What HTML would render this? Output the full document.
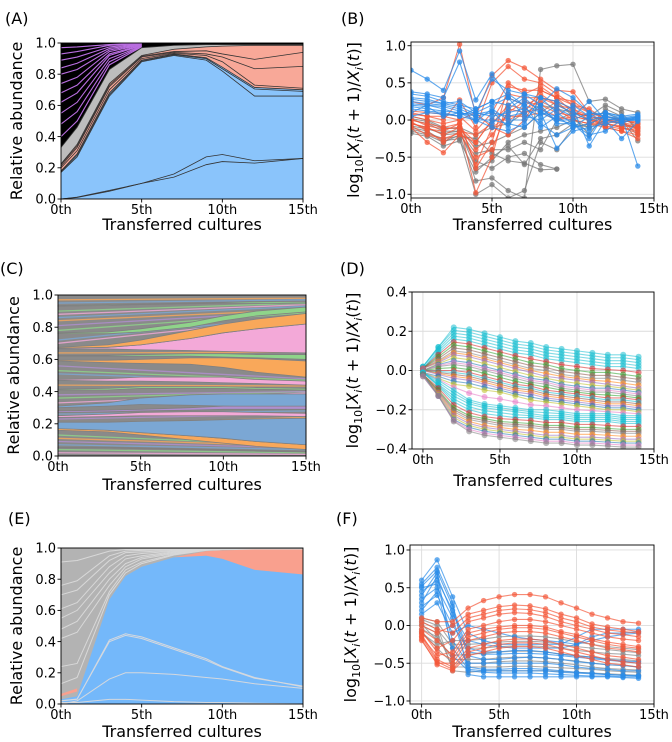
<!DOCTYPE html>
<html><head><meta charset="utf-8"><style>
html,body{margin:0;padding:0;background:#fff;}
svg{display:block;font-family:"DejaVu Sans","Liberation Sans",sans-serif;}
</style></head><body>
<svg id="fig" width="672" height="742" viewBox="0 0 672 742" xmlns="http://www.w3.org/2000/svg"></svg>
<script>
// ---------- DATA ----------
const ticksX = [0,5,10,15];
const ticksXLabels = ["0th","5th","10th","15th"];
const tSteps = [0,1,2,3,4,5,6,7,8,9,10,11,12,13,14];

// Panel A (stacked boundaries)
const aX = [0,1,3,5,7,9,10,12,15];
const aBl1 = [0,0.01,0.05,0.10,0.14,0.22,0.24,0.23,0.26];
const aBl2 = [0,0.012,0.055,0.10,0.16,0.27,0.285,0.245,0.26];
const aBlueTop1 = [0.17,0.27,0.66,0.88,0.92,0.89,0.82,0.66,0.66];
const aBlueTop2 = [0.175,0.28,0.67,0.885,0.925,0.90,0.835,0.705,0.69];
const aBlueTop = [0.18,0.29,0.68,0.89,0.93,0.905,0.845,0.715,0.70];
const aSal1 = [0.20,0.31,0.70,0.90,0.935,0.92,0.88,0.73,0.71];
const aSal2 = [0.21,0.33,0.72,0.91,0.94,0.93,0.91,0.835,0.85];
const aSal3 = [0.22,0.34,0.73,0.915,0.945,0.95,0.93,0.895,0.94];
const aSalTop = [0.225,0.35,0.74,0.92,0.96,0.975,0.98,0.985,0.985];
const aGrayTop = [0.33,0.46,0.83,0.97,0.985,0.99,0.99,0.99,0.99];
const aPurpleX = [0,1,3,5];
const aPurple = [[0.40,0.50,0.86,0.975],[0.48,0.56,0.88,0.978],[0.55,0.62,0.90,0.98],[0.62,0.68,0.92,0.983],[0.68,0.73,0.93,0.985],[0.74,0.78,0.945,0.988],[0.80,0.83,0.955,0.99],[0.84,0.87,0.965,0.992],[0.89,0.91,0.975,0.994],[0.93,0.945,0.985,0.996],[0.97,0.975,0.99,0.998]];

// Panel B
const bBlue = [
[0.67,0.55,0.40,0.93,0.27,0.62,0.30,0.20,0.10,0.00,-0.05,-0.25,0.10,0.05,-0.62],
[0.38,0.35,0.30,0.78,0.10,0.55,0.40,0.35,0.20,0.42,0.30,0.10,0.05,0.00,0.02],
[0.35,0.32,0.25,0.20,0.15,0.25,0.20,0.35,0.30,0.25,0.15,-0.35,0.00,-0.05,0.05],
[0.25,0.22,0.20,0.15,0.05,0.10,0.05,0.10,-0.05,-0.20,-0.10,0.05,0.10,0.05,0.08],
[0.22,0.20,0.18,0.12,0.00,0.00,-0.05,-0.10,0.10,-0.38,-0.15,-0.10,-0.05,0.00,0.03],
[0.18,0.15,0.12,0.10,0.05,-0.05,0.15,0.30,0.10,0.05,0.20,0.05,0.02,-0.02,0.00],
[0.10,0.20,0.15,0.08,0.10,0.20,0.30,0.05,0.00,0.15,0.05,0.25,0.00,-0.25,-0.02],
[0.20,0.18,0.05,0.10,-0.02,0.15,0.00,0.00,0.20,-0.05,-0.05,-0.20,-0.15,0.00,0.05],
[0.30,0.28,0.22,0.25,0.10,0.05,0.10,0.15,0.05,0.20,0.10,0.00,0.05,0.02,0.00],
[0.15,0.12,0.10,0.05,0.00,-0.10,-0.15,-0.05,0.30,0.10,-0.05,-0.15,0.00,0.02,0.04],
[0.28,0.25,0.22,0.18,0.08,0.12,-0.10,0.25,0.15,0.00,0.00,0.10,0.08,0.03,0.06],
[0.05,0.10,0.08,0.05,0.15,0.25,0.35,0.20,-0.10,0.05,-0.10,-0.05,0.05,-0.02,0.01]];
const bRed = [
[0.25,0.20,0.30,1.02,0.05,0.60,0.80,0.70,0.55,0.40,0.38,0.10,0.05,0.00,-0.05],
[0.10,0.05,0.00,0.27,-0.10,0.50,0.72,0.55,0.50,0.35,0.20,0.15,0.00,-0.05,-0.10],
[0.05,0.00,-0.05,0.00,-0.65,-0.30,0.45,0.40,0.40,0.30,0.20,0.10,-0.05,-0.10,-0.15],
[0.00,-0.05,-0.10,-0.05,-0.98,-0.50,0.30,0.20,0.30,0.20,0.15,0.05,-0.10,-0.15,-0.20],
[-0.05,-0.10,-0.20,-0.10,-0.40,-0.20,0.10,0.25,0.20,0.10,0.05,0.00,-0.05,-0.08,-0.10],
[-0.10,-0.30,-0.44,-0.20,-0.30,0.00,0.00,0.10,0.40,0.30,0.10,0.05,0.00,0.00,-0.05],
[0.08,0.05,0.05,0.00,0.10,-0.10,-0.20,0.00,0.35,0.20,0.10,0.05,0.00,-0.03,-0.08],
[-0.02,-0.15,-0.30,-0.15,-0.20,-0.05,0.20,0.15,0.25,0.15,0.00,-0.05,-0.10,-0.15,-0.25],
[0.02,-0.08,-0.12,-0.10,-0.30,0.00,0.35,0.30,0.30,0.25,0.15,0.00,-0.08,-0.12,-0.12],
[-0.08,-0.20,-0.25,-0.18,-0.50,-0.40,0.15,0.10,0.15,0.05,0.00,-0.05,-0.05,-0.10,-0.18],
[0.12,0.10,0.08,0.05,-0.15,0.10,0.50,0.35,0.45,0.30,0.25,0.10,0.02,-0.02,-0.02],
[-0.04,-0.12,-0.15,-0.05,-0.60,-0.10,0.05,0.05,0.10,0.00,0.05,0.00,-0.02,-0.05,-0.12]];
const bGray = [
[-0.15,-0.20,-0.30,-0.20,-0.82,-0.78,-0.95,-1.05,0.68,0.73,0.75,0.25,0.28,0.15,0.10],
[-0.10,-0.15,-0.28,-0.25,-1.00,-0.87,-1.05,-0.95,-0.30,-0.40,-0.10,-0.05,0.05,0.00,-0.05],
[-0.05,-0.10,-0.20,-0.18,-0.55,-0.65,-0.50,-0.45,-0.60,-0.66,null,null,null,null,null],
[0.00,-0.05,-0.15,-0.15,-0.45,-0.40,-0.40,-0.30,-0.40,0.00,0.10,0.00,0.05,0.00,-0.28],
[0.05,0.00,-0.10,-0.12,-0.35,-0.30,-0.20,-0.10,0.10,0.25,0.05,-0.20,0.10,0.00,-0.20],
[-0.12,-0.18,-0.25,-0.22,-0.25,-0.45,-0.55,-0.58,-0.67,-0.66,null,null,null,null,null],
[-0.08,-0.12,-0.18,-0.15,-0.65,-0.55,-0.30,-0.20,-0.15,-0.10,0.00,-0.10,0.15,0.05,-0.10],
[0.02,-0.02,-0.12,-0.10,-0.20,-0.10,-0.05,0.10,0.20,0.15,0.10,0.05,0.20,0.10,-0.15],
[-0.18,-0.22,-0.35,-0.28,-0.70,-0.50,-0.35,-0.60,-0.25,-0.20,-0.05,-0.10,0.00,-0.05,-0.10]];

// Panel C bands
const cX = [0,3,5,8,10,12,15];
const cBandLow = [
[0.16,0.15,0.13,0.10,0.08,0.06,0.04],[0.17,0.16,0.145,0.125,0.11,0.09,0.07],[0.24,0.245,0.25,0.25,0.25,0.25,0.245],
[0.30,0.31,0.32,0.315,0.31,0.305,0.30],[0.41,0.41,0.42,0.42,0.42,0.415,0.41],[0.47,0.465,0.465,0.46,0.455,0.45,0.44],
[0.59,0.58,0.575,0.57,0.55,0.52,0.49],[0.62,0.62,0.62,0.62,0.615,0.61,0.60],[0.665,0.665,0.66,0.655,0.65,0.645,0.64],
[0.67,0.675,0.69,0.73,0.765,0.79,0.82],[0.76,0.76,0.77,0.80,0.84,0.87,0.895],[0.93,0.935,0.94,0.945,0.95,0.95,0.945],
[0.27,0.275,0.28,0.285,0.29,0.29,0.29],[0.05,0.05,0.045,0.04,0.035,0.03,0.025]];
const cBandHigh = [
[0.17,0.16,0.145,0.125,0.11,0.09,0.07],[0.21,0.21,0.215,0.22,0.225,0.23,0.235],[0.25,0.26,0.27,0.275,0.275,0.27,0.265],
[0.31,0.33,0.36,0.38,0.385,0.385,0.385],[0.415,0.42,0.43,0.43,0.43,0.425,0.42],[0.475,0.48,0.49,0.49,0.49,0.475,0.465],
[0.595,0.595,0.60,0.61,0.61,0.605,0.59],[0.625,0.625,0.63,0.635,0.635,0.63,0.63],[0.67,0.675,0.69,0.73,0.765,0.79,0.82],
[0.675,0.69,0.72,0.78,0.82,0.85,0.885],[0.765,0.77,0.79,0.83,0.87,0.90,0.925],[0.935,0.94,0.945,0.95,0.955,0.96,0.955],
[0.28,0.285,0.29,0.30,0.31,0.31,0.31],[0.055,0.055,0.05,0.045,0.04,0.035,0.03]];
const cBandColor = ["#f9a85a","#7ba7d4","#f3a9d8","#7ba7d4","#8fd48a","#f3a9d8","#f9a85a","#8fd48a","#f3a9d8","#f9a85a","#8fd48a","#8fd48a","#b08fcf","#b08fcf"];
const cStripeStart = [0.02,0.04,0.07,0.09,0.11,0.13,0.19,0.23,0.26,0.33,0.36,0.38,0.44,0.51,0.53,0.56,0.64,0.70,0.72,0.78,0.81,0.84,0.86,0.88,0.90,0.95,0.97];
const cStripeEnd   = [0.01,0.02,0.04,0.05,0.06,0.065,0.24,0.26,0.28,0.39,0.40,0.40,0.435,0.46,0.47,0.48,0.645,0.86,0.87,0.89,0.90,0.91,0.93,0.94,0.95,0.97,0.98];
const cStripeColor = ["#f3a9d8","#8fd48a","#7ba7d4","#b08fcf","#f9a85a","#8fd48a","#f9a85a","#b08fcf","#7ba7d4","#f3a9d8","#8fd48a","#b08fcf","#f9a85a","#7ba7d4","#8fd48a","#b08fcf","#f9a85a","#f3a9d8","#7ba7d4","#8fd48a","#b08fcf","#f9a85a","#7ba7d4","#f3a9d8","#8fd48a","#7ba7d4","#f9a85a"];

// Panel D
const dSeries = [
[0.02,0.12,0.22,0.21,0.19,0.17,0.15,0.14,0.12,0.11,0.10,0.09,0.08,0.08,0.07],
[0.02,0.12,0.205,0.195,0.175,0.155,0.135,0.125,0.105,0.095,0.085,0.075,0.065,0.065,0.055],
[0.02,0.11,0.19,0.18,0.16,0.14,0.12,0.11,0.09,0.08,0.07,0.06,0.05,0.05,0.04],
[0.01,0.10,0.175,0.165,0.145,0.125,0.105,0.095,0.075,0.065,0.055,0.045,0.035,0.035,0.025],
[0.01,0.09,0.16,0.15,0.13,0.11,0.09,0.08,0.06,0.05,0.04,0.03,0.02,0.02,0.01],
[0.01,0.08,0.145,0.135,0.115,0.095,0.075,0.06,0.045,0.03,0.02,0.01,0.005,0,-0.01],
[0.01,0.07,0.13,0.12,0.10,0.08,0.06,0.04,0.03,0.01,0.00,-0.01,-0.01,-0.02,-0.03],
[0.01,0.06,0.115,0.105,0.085,0.065,0.045,0.025,0.015,-0.005,-0.015,-0.025,-0.025,-0.035,-0.045],
[0.01,0.05,0.10,0.09,0.07,0.05,0.03,0.01,0.00,-0.02,-0.03,-0.04,-0.04,-0.05,-0.06],
[0.01,0.045,0.09,0.08,0.06,0.04,0.02,0,-0.015,-0.03,-0.04,-0.05,-0.055,-0.065,-0.075],
[0.01,0.04,0.08,0.07,0.05,0.03,0.01,-0.01,-0.03,-0.04,-0.05,-0.06,-0.07,-0.08,-0.09],
[0,0.035,0.065,0.055,0.035,0.015,-0.005,-0.025,-0.04,-0.055,-0.065,-0.075,-0.08,-0.09,-0.10],
[0.00,0.03,0.05,0.04,0.02,0.00,-0.02,-0.04,-0.05,-0.07,-0.08,-0.09,-0.09,-0.10,-0.11],
[0,0.025,0.04,0.03,0.01,-0.01,-0.03,-0.05,-0.06,-0.08,-0.09,-0.10,-0.10,-0.11,-0.12],
[0.00,0.02,0.03,0.02,0.00,-0.02,-0.04,-0.06,-0.07,-0.09,-0.10,-0.11,-0.11,-0.12,-0.13],
[0,0.01,0.015,0.005,-0.015,-0.035,-0.055,-0.07,-0.085,-0.10,-0.11,-0.12,-0.125,-0.13,-0.14],
[0.00,0.00,0.00,-0.01,-0.03,-0.05,-0.07,-0.08,-0.10,-0.11,-0.12,-0.13,-0.14,-0.14,-0.15],
[0,-0.005,-0.01,-0.02,-0.04,-0.06,-0.08,-0.09,-0.11,-0.12,-0.13,-0.14,-0.15,-0.15,-0.16],
[0.00,-0.01,-0.02,-0.03,-0.05,-0.07,-0.09,-0.10,-0.12,-0.13,-0.14,-0.15,-0.16,-0.16,-0.17],
[0,-0.015,-0.03,-0.04,-0.06,-0.08,-0.10,-0.11,-0.13,-0.14,-0.15,-0.16,-0.17,-0.17,-0.18],
[0.00,-0.02,-0.04,-0.05,-0.07,-0.09,-0.11,-0.12,-0.14,-0.15,-0.16,-0.17,-0.18,-0.18,-0.19],
[-0.01,-0.03,-0.055,-0.065,-0.085,-0.10,-0.12,-0.135,-0.15,-0.16,-0.17,-0.18,-0.19,-0.19,-0.20],
[-0.01,-0.04,-0.07,-0.08,-0.10,-0.11,-0.13,-0.15,-0.16,-0.17,-0.18,-0.19,-0.20,-0.20,-0.21],
[-0.01,-0.045,-0.085,-0.115,-0.135,-0.145,-0.16,-0.175,-0.18,-0.19,-0.20,-0.205,-0.21,-0.215,-0.22],
[-0.01,-0.05,-0.10,-0.15,-0.17,-0.18,-0.19,-0.20,-0.20,-0.21,-0.22,-0.22,-0.22,-0.23,-0.23],
[-0.01,-0.06,-0.115,-0.16,-0.18,-0.19,-0.20,-0.21,-0.215,-0.22,-0.23,-0.23,-0.23,-0.24,-0.24],
[-0.01,-0.07,-0.13,-0.17,-0.19,-0.20,-0.21,-0.22,-0.23,-0.23,-0.24,-0.24,-0.24,-0.25,-0.25],
[-0.01,-0.075,-0.145,-0.185,-0.205,-0.215,-0.225,-0.23,-0.24,-0.24,-0.25,-0.25,-0.25,-0.26,-0.26],
[-0.01,-0.08,-0.16,-0.20,-0.22,-0.23,-0.24,-0.24,-0.25,-0.25,-0.26,-0.26,-0.26,-0.27,-0.27],
[-0.02,-0.09,-0.175,-0.215,-0.235,-0.245,-0.25,-0.255,-0.265,-0.265,-0.275,-0.275,-0.28,-0.285,-0.285],
[-0.02,-0.10,-0.19,-0.23,-0.245,-0.26,-0.265,-0.27,-0.28,-0.28,-0.29,-0.29,-0.295,-0.30,-0.30],
[-0.02,-0.105,-0.20,-0.24,-0.255,-0.27,-0.275,-0.28,-0.29,-0.29,-0.30,-0.30,-0.305,-0.31,-0.31],
[-0.02,-0.11,-0.21,-0.25,-0.265,-0.28,-0.285,-0.29,-0.30,-0.30,-0.31,-0.31,-0.315,-0.32,-0.32],
[-0.02,-0.115,-0.22,-0.26,-0.28,-0.29,-0.30,-0.305,-0.315,-0.315,-0.325,-0.325,-0.33,-0.335,-0.335],
[-0.02,-0.12,-0.23,-0.27,-0.29,-0.30,-0.31,-0.32,-0.33,-0.33,-0.34,-0.34,-0.345,-0.35,-0.35],
[-0.02,-0.125,-0.24,-0.28,-0.30,-0.31,-0.32,-0.33,-0.34,-0.34,-0.35,-0.35,-0.355,-0.36,-0.36],
[-0.02,-0.13,-0.25,-0.29,-0.31,-0.32,-0.33,-0.34,-0.35,-0.35,-0.36,-0.36,-0.365,-0.37,-0.37],
[-0.03,-0.13,-0.255,-0.30,-0.32,-0.33,-0.34,-0.35,-0.36,-0.36,-0.37,-0.37,-0.375,-0.38,-0.38],
[-0.03,-0.13,-0.26,-0.31,-0.33,-0.34,-0.35,-0.36,-0.37,-0.37,-0.38,-0.38,-0.385,-0.39,-0.39]];
const dColors = ["#17becf","#17becf","#17becf","#17becf","#17becf","#d62728","#2ca02c","#8c564b","#7f7f7f","#ff7f0e","#9467bd","#bcbd22","#1f77b4","#e377c2","#7f7f7f","#2ca02c","#d62728","#17becf","#8c564b","#ff7f0e","#9467bd","#1f77b4","#bcbd22","#e377c2"];

// Panel E
const eX = [0,1,3,4,5,7,9,10,12,15];
const eBlueTop = [0.03,0.05,0.67,0.82,0.88,0.94,0.95,0.93,0.86,0.83];
const eSalTop  = [0.03,0.05,0.67,0.82,0.88,0.94,0.98,0.985,0.99,0.99];
const eInner = [[0.02,0.03,0.41,0.45,0.43,0.36,0.29,0.24,0.17,0.11],[0.021,0.032,0.40,0.44,0.42,0.35,0.28,0.235,0.165,0.115],[0.0,0.02,0.16,0.20,0.20,0.19,0.17,0.16,0.13,0.10],[0.01,0.01,0.03,0.03,0.025,0.015,0.01,0.01,0.005,0]];
const eGrayLines = [[0.13,0.17,0.70,0.84,0.90,0.955,0.985,0.99,0.99,0.99],[0.24,0.26,0.72,0.86,0.91,0.96,0.986,0.99,0.99,0.99],[0.42,0.46,0.76,0.88,0.93,0.965,0.988,0.99,0.99,0.99],[0.48,0.53,0.80,0.90,0.94,0.97,0.99,0.99,0.99,0.99],[0.55,0.60,0.84,0.93,0.95,0.975,0.99,0.99,0.99,0.99],[0.61,0.65,0.88,0.95,0.965,0.98,0.99,0.99,0.99,0.99],[0.70,0.73,0.92,0.97,0.975,0.985,0.99,0.99,0.99,0.99],[0.76,0.79,0.95,0.98,0.985,0.99,0.99,0.99,0.99,0.99],[0.91,0.92,0.98,0.99,0.99,0.99,0.99,0.99,0.99,0.99]];

// Panel F
const fBlue = [
[0.60,0.87,0.38,-0.10,-0.20,-0.25,-0.25,-0.25,-0.25,-0.25,-0.15,-0.05,-0.05,-0.05,-0.05],
[0.55,0.77,0.30,-0.65,-0.68,-0.68,-0.68,-0.68,-0.68,-0.68,-0.68,-0.68,-0.68,-0.69,-0.70],
[0.45,0.60,0.20,-0.40,-0.45,-0.45,-0.43,-0.42,-0.43,-0.45,-0.48,-0.50,-0.52,-0.53,-0.55],
[0.35,0.50,0.10,-0.55,-0.58,-0.58,-0.57,-0.57,-0.58,-0.60,-0.62,-0.63,-0.65,-0.66,-0.66],
[0.25,0.40,0.00,-0.30,-0.35,-0.35,-0.33,-0.33,-0.35,-0.38,-0.40,-0.42,-0.45,-0.47,-0.48],
[0.15,0.30,-0.10,0.00,-0.05,-0.10,-0.15,-0.18,-0.20,-0.22,-0.25,-0.20,-0.15,-0.12,-0.10],
[0.50,0.55,-0.20,-0.50,-0.50,-0.50,-0.50,-0.50,-0.50,-0.52,-0.55,-0.57,-0.58,-0.60,-0.60],
[0.40,0.70,-0.40,-0.60,-0.62,-0.63,-0.63,-0.63,-0.64,-0.65,-0.66,-0.67,-0.67,-0.68,-0.68],
[0.52,0.72,0.25,-0.35,-0.38,-0.38,-0.37,-0.37,-0.38,-0.40,-0.42,-0.44,-0.46,-0.48,-0.50],
[0.30,0.65,0.15,-0.20,-0.25,-0.28,-0.30,-0.30,-0.30,-0.30,-0.25,-0.15,-0.10,-0.10,-0.08],
[0.20,0.45,-0.30,-0.58,-0.60,-0.60,-0.60,-0.60,-0.60,-0.62,-0.63,-0.64,-0.65,-0.66,-0.67]];
const fRed = [
[0.10,0.05,0.05,0.23,0.33,0.38,0.41,0.41,0.38,0.30,0.23,0.15,0.10,0.05,0.03],
[0.00,-0.10,0.00,0.15,0.20,0.25,0.27,0.26,0.22,0.15,0.10,0.02,-0.02,-0.05,-0.08],
[-0.10,-0.30,-0.20,0.05,0.10,0.15,0.17,0.16,0.12,0.05,0.00,-0.05,-0.10,-0.12,-0.15],
[-0.15,-0.40,-0.35,-0.05,0.00,0.05,0.08,0.08,0.05,0.00,-0.05,-0.10,-0.15,-0.18,-0.20],
[-0.20,-0.50,-0.50,-0.20,-0.15,-0.10,-0.08,-0.08,-0.10,-0.15,-0.20,-0.25,-0.30,-0.32,-0.35],
[-0.18,-0.52,-0.60,-0.40,-0.35,-0.30,-0.28,-0.28,-0.30,-0.35,-0.40,-0.45,-0.50,-0.52,-0.55],
[-0.05,-0.20,-0.40,-0.10,-0.05,-0.02,0.00,0.00,-0.02,-0.08,-0.12,-0.18,-0.22,-0.25,-0.28],
[-0.12,-0.45,-0.55,-0.30,-0.25,-0.20,-0.18,-0.18,-0.20,-0.25,-0.30,-0.35,-0.40,-0.42,-0.45],
[-0.08,-0.35,-0.45,-0.15,-0.10,-0.05,-0.03,-0.03,-0.05,-0.10,-0.15,-0.20,-0.25,-0.28,-0.30],
[0.05,-0.05,-0.10,0.10,0.15,0.20,0.22,0.21,0.17,0.10,0.05,-0.02,-0.06,-0.08,-0.10],
[-0.15,-0.48,-0.58,-0.35,-0.30,-0.25,-0.23,-0.23,-0.25,-0.30,-0.35,-0.40,-0.45,-0.48,-0.50]];
const fGray = [
[0.05,-0.05,-0.30,-0.30,-0.30,-0.28,-0.27,-0.27,-0.28,-0.30,-0.33,-0.35,-0.37,-0.38,-0.40],
[-0.05,-0.15,-0.45,-0.45,-0.45,-0.43,-0.42,-0.42,-0.43,-0.45,-0.47,-0.50,-0.52,-0.53,-0.55],
[0.00,-0.10,-0.55,-0.55,-0.55,-0.55,-0.54,-0.54,-0.55,-0.56,-0.57,-0.58,-0.60,-0.61,-0.62],
[-0.10,-0.25,-0.20,-0.20,-0.18,-0.15,-0.14,-0.14,-0.15,-0.18,-0.22,-0.25,-0.28,-0.30,-0.32],
[0.08,0.00,-0.60,-0.62,-0.60,-0.60,-0.60,-0.60,-0.60,-0.61,-0.62,-0.63,-0.64,-0.65,-0.66],
[0.02,-0.20,-0.40,-0.38,-0.37,-0.35,-0.34,-0.34,-0.35,-0.38,-0.40,-0.42,-0.44,-0.45,-0.47],
[-0.08,-0.30,-0.50,-0.50,-0.50,-0.48,-0.47,-0.47,-0.48,-0.50,-0.52,-0.55,-0.57,-0.58,-0.59],
[0.10,0.05,-0.25,-0.25,-0.24,-0.22,-0.21,-0.21,-0.22,-0.25,-0.28,-0.30,-0.32,-0.34,-0.36]];

// ---------- DRAW ----------
const NS = "http://www.w3.org/2000/svg";
const svg = document.getElementById("fig");
function el(tag, attrs, parent){ const e=document.createElementNS(NS,tag); for(const k in attrs) e.setAttribute(k,attrs[k]); (parent||svg).appendChild(e); return e; }
function mkAxes(box,xlim,ylim){
  return { sx:v=>box.L+(v-xlim[0])/(xlim[1]-xlim[0])*(box.R-box.L), sy:v=>box.B-(v-ylim[0])/(ylim[1]-ylim[0])*(box.B-box.T) };
}
function linePath(ax,xs,ys){ let d="",pen=false; xs.forEach((x,i)=>{ if(ys[i]==null){pen=false;return;} d+=(pen?"L":"M")+ax.sx(x).toFixed(2)+","+ax.sy(ys[i]).toFixed(2); pen=true;}); return d; }
function areaPath(ax,xs,lo,hi){ let d="M"; xs.forEach((x,i)=>{d+=(i?"L":"")+ax.sx(x).toFixed(2)+","+ax.sy(hi[i]).toFixed(2);}); for(let i=xs.length-1;i>=0;i--) d+="L"+ax.sx(xs[i]).toFixed(2)+","+ax.sy(lo[i]).toFixed(2); return d+"Z"; }
function clip(id,box){ const cp=el("clipPath",{id:id}); el("rect",{x:box.L,y:box.T,width:box.R-box.L,height:box.B-box.T},cp); }

function frame(name,box,ax,yticks){
  const g=el("g",{});
  
  
  ticksX.forEach(t=>{ const x=ax.sx(t); if(x>=box.L-0.5&&x<=box.R+0.5){ const l=el("line",{x1:x,x2:x,y1:box.T,y2:box.B,stroke:"#dcdcdc","stroke-width":0.9},g);   }});
  yticks.forEach(t=>{ const y=ax.sy(t); const l=el("line",{x1:box.L,x2:box.R,y1:y,y2:y,stroke:"#dcdcdc","stroke-width":0.9},g);   });
}
function decorate(name,box,ax,yticks,ylabels,label,labelPos,ytitle,ytitleX,xtitleY){
  const g=el("g",{});
  
  
  const r=el("rect",{x:box.L,y:box.T,width:box.R-box.L,height:box.B-box.T,fill:"none",stroke:"#000","stroke-width":0.9},g);
   
  ticksX.forEach((t,i)=>{ const x=ax.sx(t);
    el("line",{x1:x,x2:x,y1:box.B,y2:box.B+3.5,stroke:"#000","stroke-width":0.9},g);
    const tx=el("text",{x:x,y:box.B+15,"font-size":13,"text-anchor":"middle",fill:"#000"},g); tx.textContent=ticksXLabels[i];
     
  });
  yticks.forEach((t,i)=>{ const y=ax.sy(t);
    el("line",{x1:box.L-3.5,x2:box.L,y1:y,y2:y,stroke:"#000","stroke-width":0.9},g);
    const tx=el("text",{x:box.L-5,y:y+4.7,"font-size":13,"text-anchor":"end",fill:"#000"},g); tx.textContent=ylabels[i];
     
  });
  const xt=el("text",{x:(box.L+box.R)/2,y:xtitleY,"font-size":16,"text-anchor":"middle",fill:"#000"},g);
  xt.textContent="Transferred cultures";
   
  const cy=(box.T+box.B)/2;
  const yt=el("text",{x:0,y:0,"font-size":16,"text-anchor":"middle",fill:"#000",transform:`translate(${ytitleX},${cy}) rotate(-90)`},g);
   
  if(ytitle==="rel"){ yt.textContent="Relative abundance"; }
  else {
    yt.innerHTML='log<tspan font-size="11" dy="4">10</tspan><tspan dy="-4">[</tspan><tspan font-style="italic">X</tspan><tspan font-style="italic" font-size="11" dy="4">i</tspan><tspan dy="-4">(</tspan><tspan font-style="italic">t</tspan> + 1)/<tspan font-style="italic">X</tspan><tspan font-style="italic" font-size="11" dy="4">i</tspan><tspan dy="-4">(</tspan><tspan font-style="italic">t</tspan>)]';
  }
  const lb=el("text",{x:labelPos[0],y:labelPos[1],"font-size":16,fill:"#000"},g);
  lb.textContent=label;
   
}
function lines(ax,g,series,color,name,opac,rad){
  series.forEach(s=>{
    const p=el("path",{d:linePath(ax,tSteps,s),fill:"none",stroke:color,"stroke-width":1.1,"stroke-opacity":opac},g);
    
    
    s.forEach((v,i)=>{ if(v==null) return;
      const c=el("circle",{cx:ax.sx(tSteps[i]),cy:ax.sy(v),r:rad||2.7,fill:color,"fill-opacity":opac},g);
      
      
    });
  });
}
const relTicks=[0,0.2,0.4,0.6,0.8,1.0], relLab=["0.0","0.2","0.4","0.6","0.8","1.0"];

// ---- Panel A ----
(function(){
  const box={L:61,R:303,T:43,B:199}; const ax=mkAxes(box,[0,15],[0,1]);
  const g=el("g",{});  
  const zero=aX.map(()=>0), one=aX.map(()=>1);
  [[zero,aBlueTop,"#8ac4fb","blue-area"],[aBlueTop,aSalTop,"#f8a898","salmon-area"],[aSalTop,aGrayTop,"#bdbdbd","gray-area"]].forEach(a=>{
    const p=el("path",{d:areaPath(ax,aX,a[0],a[1]),fill:a[2],stroke:"none"},g);
     
  });
  const bk=el("path",{d:areaPath(ax,aX,aGrayTop,one),fill:"#000000","fill-opacity":1,stroke:"none"},g);
   
  aPurple.forEach(s=>{ const p=el("path",{d:linePath(ax,aPurpleX,s),fill:"none",stroke:"#b96ee0","stroke-width":1.1},g);
      });
  [aBl1,aBl2,aBlueTop1,aBlueTop2,aBlueTop,aSal1,aSal2,aSal3,aSalTop,aGrayTop].forEach(s=>{
    const p=el("path",{d:linePath(ax,aX,s),fill:"none",stroke:"#333","stroke-width":0.8},g);
      });
  decorate("panel-a",box,ax,relTicks,relLab,"(A)",[5,24],"rel",22,230);
})();

// ---- Panel B ----
(function(){
  const box={L:411,R:654,T:42,B:198}; const ax=mkAxes(box,[0,15],[-1.05,1.05]);
  const yt=[-1,-0.5,0,0.5,1], yl=["\u22121.0","\u22120.5","0.0","0.5","1.0"];
  frame("panel-b",box,ax,yt);
  clip("clipB",box);
  const g=el("g",{"clip-path":"url(#clipB)"});  
  lines(ax,g,bGray,"#7a7a7a","gray-species",0.75);
  lines(ax,g,bRed,"#f4583a","red-species",0.75);
  lines(ax,g,bBlue,"#2a8be8","blue-species",0.75);
  decorate("panel-b",box,ax,yt,yl,"(B)",[341,24],"log",359,230);
})();

// ---- Panel C ----
(function(){
  const box={L:58,R:306,T:295,B:456}; const ax=mkAxes(box,[0,15],[0,1]);
  const g=el("g",{});  
  const bg=el("rect",{x:box.L,y:box.T,width:box.R-box.L,height:box.B-box.T,fill:"#8a8a8a"},g);
   
  cStripeStart.forEach((v,i)=>{ const p=el("path",{d:linePath(ax,[0,15],[v,cStripeEnd[i]]),fill:"none",stroke:cStripeColor[i],"stroke-width":1.3,"stroke-opacity":0.8},g);
      });
  cBandLow.forEach((lo,i)=>{ const p=el("path",{d:areaPath(ax,cX,lo,cBandHigh[i]),fill:cBandColor[i],stroke:"#808080","stroke-width":0.8},g);
      });
  decorate("panel-c",box,ax,relTicks,relLab,"(C)",[0,274],"rel",19,490);
})();

// ---- Panel D ----
(function(){
  const box={L:412,R:654,T:292,B:449}; const ax=mkAxes(box,[-0.71,15],[-0.4,0.4]);
  const yt=[-0.4,-0.2,0,0.2,0.4], yl=["\u22120.4","\u22120.2","0.0","0.2","0.4"];
  frame("panel-d",box,ax,yt);
  clip("clipD",box);
  const g=el("g",{"clip-path":"url(#clipD)"});  
  dSeries.forEach((s,i)=>lines(ax,g,[s],dColors[i%dColors.length],"species",0.55,3));
  decorate("panel-d",box,ax,yt,yl,"(D)",[340,274],"log",358,486);
})();

// ---- Panel E ----
(function(){
  const box={L:61,R:303,T:548,B:704}; const ax=mkAxes(box,[0,15],[0,1]);
  const g=el("g",{});  
  const zero=eX.map(()=>0);
  const bg=el("rect",{x:box.L,y:box.T,width:box.R-box.L,height:box.B-box.T,fill:"#b3b3b3"},g);
   
  eGrayLines.forEach(s=>{ const p=el("path",{d:linePath(ax,eX,s),fill:"none",stroke:"#d8d8d8","stroke-width":1},g);
      });
  let p=el("path",{d:areaPath(ax,eX,eBlueTop,eSalTop),fill:"#f9a08e"},g);  
  p=el("path",{d:areaPath(ax,eX,zero,eBlueTop),fill:"#74b8fa"},g);  
  p=el("path",{d:areaPath(ax,[0,1],[0.05,0.08],[0.065,0.1]),fill:"#f9a08e"},g);  
  eInner.forEach(s=>{ const q=el("path",{d:linePath(ax,eX,s),fill:"none",stroke:"#d4d8de","stroke-width":1},g);
      });
  decorate("panel-e",box,ax,relTicks,relLab,"(E)",[8,524],"rel",22,737);
})();

// ---- Panel F ----
(function(){
  const box={L:410,R:654,T:545,B:704}; const ax=mkAxes(box,[-0.75,15],[-1.04,1.066]);
  const yt=[-1,-0.5,0,0.5,1], yl=["\u22121.0","\u22120.5","0.0","0.5","1.0"];
  frame("panel-f",box,ax,yt);
  clip("clipF",box);
  const g=el("g",{"clip-path":"url(#clipF)"});  
  lines(ax,g,fGray,"#8a8a8a","gray-species",0.7);
  lines(ax,g,fBlue,"#2a8be8","blue-species",0.7);
  lines(ax,g,fRed,"#f4583a","red-species",0.7);
  decorate("panel-f",box,ax,yt,yl,"(F)",[336,524],"log",356,737);
})();
</script>
</body></html>
